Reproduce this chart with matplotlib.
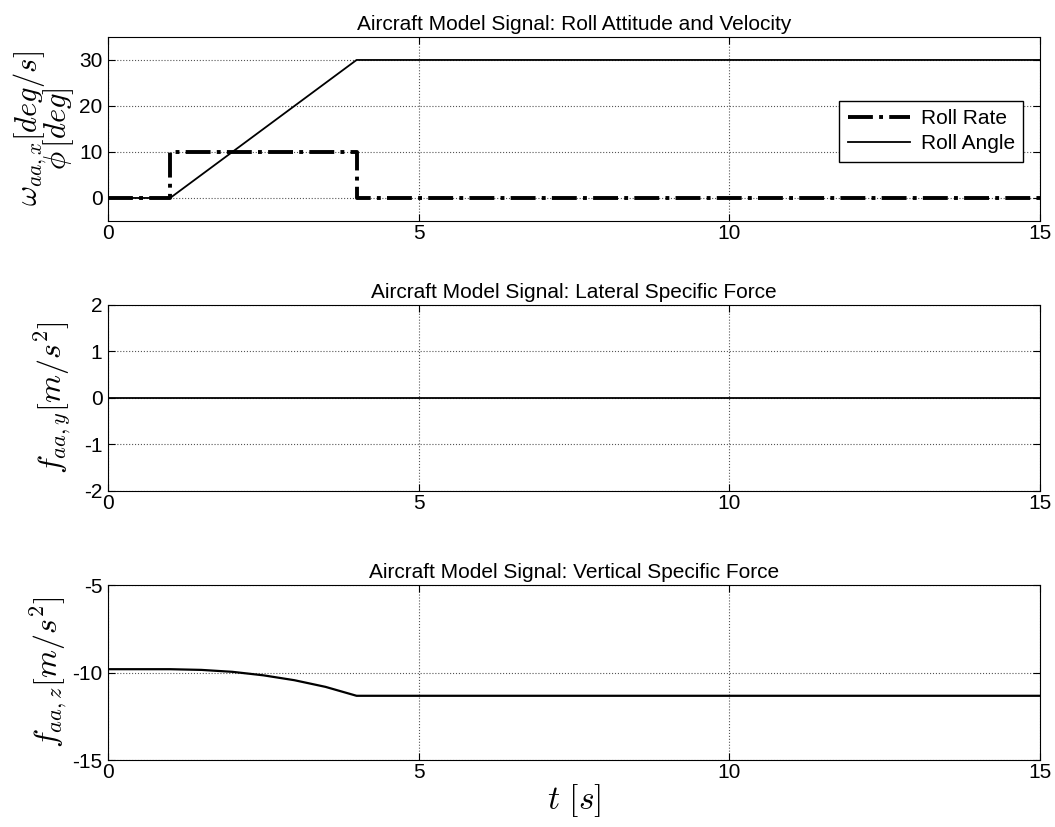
import numpy as np
import matplotlib.pyplot as plt

plt.rcParams['font.family'] = ['Liberation Sans', 'DejaVu Sans']
plt.rcParams['mathtext.fontset'] = 'cm'
plt.rcParams['axes.unicode_minus'] = False

# roll signals
t_rate = [0, 1, 1, 4, 4, 15]
roll_rate = [0, 0, 10, 10, 0, 0]
t_angle = [0, 1, 4, 15]
roll_angle = [0, 0, 30, 30]

# lateral specific force
t_lat = [0, 15]
f_lat = [0, 0]

# vertical specific force
t_vert = [0, 1, 1.5, 2, 2.5, 3, 3.5, 4, 15]
f_vert = [-9.81, -9.81, -9.85, -9.96, -10.16, -10.44, -10.82, -11.33, -11.33]

fig = plt.figure(figsize=(10.55, 8.27), dpi=100)
ax1 = fig.add_axes([0.1024, 0.7328, 0.8834, 0.2225])
ax2 = fig.add_axes([0.1024, 0.4063, 0.8834, 0.2249])
ax3 = fig.add_axes([0.1024, 0.0810, 0.8834, 0.2116])

def style(ax, yt, ylim, title):
    ax.set_xlim(0, 15)
    ax.set_xticks([0, 5, 10, 15])
    ax.set_ylim(*ylim)
    ax.set_yticks(yt)
    ax.grid(True, linestyle=':', color='#555555', linewidth=0.8)
    ax.tick_params(direction='in', labelsize=15, top=True, right=True, length=5)
    ax.tick_params(axis='x', pad=2)
    ax.tick_params(axis='y', pad=4)
    ax.set_title(title, fontsize=15, pad=5)

ax1.plot(t_rate, roll_rate, color='black', linestyle='-.', linewidth=2.8, label='Roll Rate')
ax1.plot(t_angle, roll_angle, color='black', linewidth=1.3, label='Roll Angle')
style(ax1, [0, 10, 20, 30], (-5, 35), 'Aircraft Model Signal: Roll Attitude and Velocity')
ax1.set_ylabel('$\\omega_{aa,x}[deg/s]$\n$\\phi\\,[deg]$', fontsize=22, linespacing=0.7, labelpad=2)
ax1.legend(loc='upper right', bbox_to_anchor=(0.993, 0.71), fontsize=15, fancybox=False,
           edgecolor='black', framealpha=1, handlelength=3.0, borderpad=0.4,
           labelspacing=0.3, handletextpad=0.5)

ax2.plot(t_lat, f_lat, color='black', linewidth=1.3)
style(ax2, [-2, -1, 0, 1, 2], (-2, 2), 'Aircraft Model Signal: Lateral Specific Force')
ax2.set_ylabel('$f_{aa,y}[m/s^2]$', fontsize=23, labelpad=8)

ax3.plot(t_vert, f_vert, color='black', linewidth=1.6)
style(ax3, [-15, -10, -5], (-15, -5), 'Aircraft Model Signal: Vertical Specific Force')
ax3.set_ylabel('$f_{aa,z}[m/s^2]$', fontsize=23, labelpad=2)
ax3.set_xlabel('$t\\ [s]$', fontsize=24, labelpad=0)

fig.savefig('out.png', dpi=100)
